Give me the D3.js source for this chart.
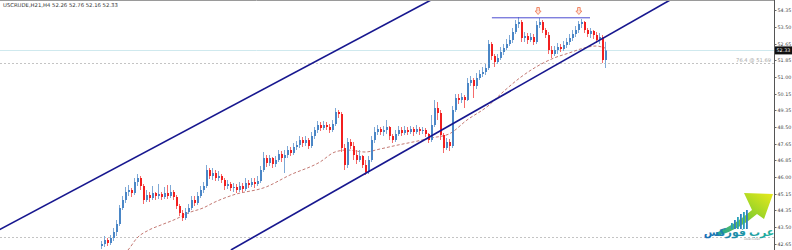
<!DOCTYPE html>
<html><head><meta charset="utf-8">
<script src="https://cdn.jsdelivr.net/npm/d3@7"></script>
<style>
html,body{margin:0;padding:0;background:#fff;}
svg{display:block;}
</style></head>
<body>
<script>
// ---------- DATA ----------
const title = "USCRUDE,H21,H4  52.26 52.76 52.16 52.33";
const tickValues = [54.35,53.50,52.65,51.85,51.00,50.15,49.35,48.50,47.65,46.85,46.00,45.15,44.35,43.50,42.65];
const currentPrice = 52.33;
const fibPrice = 51.69;
const fibLabel = "76.4 @ 51.69";
const lowLevel = 43.00;
const firstOpen = 42.55;
const candleClose = [
42.65,42.85,42.70,42.95,43.25,43.65,44.45,44.85,45.25,45.35,
45.20,45.75,45.95,45.55,44.85,45.10,44.95,45.20,45.05,45.15,
45.00,45.20,45.05,45.25,45.00,44.55,44.20,43.95,44.25,44.45,
44.85,44.70,45.05,45.35,45.55,46.35,46.05,46.20,45.95,46.05,
45.85,45.55,45.65,45.45,45.50,45.35,45.55,45.40,45.70,45.60,
45.75,45.65,45.80,46.35,46.95,46.70,46.95,46.65,46.85,47.15,
46.95,47.10,47.35,47.20,47.50,47.60,47.85,47.70,47.85,47.55,
48.05,48.35,48.60,48.45,48.60,48.50,48.35,48.65,49.25,49.15,
47.45,46.60,47.75,47.55,47.10,46.85,47.05,46.60,46.25,46.85,
47.85,48.25,48.40,48.25,48.35,48.50,48.05,47.85,48.15,48.35,
48.20,48.35,48.25,48.40,48.25,48.40,48.30,48.35,48.15,47.85,
48.60,49.45,49.20,48.10,47.45,47.75,47.55,49.35,49.95,49.85,
50.00,49.85,50.70,50.85,50.55,50.95,51.15,51.25,51.45,52.65,
52.05,51.75,51.95,52.25,52.45,52.65,52.85,53.25,53.65,53.75,
52.95,53.05,52.85,53.00,52.75,53.60,53.75,53.35,53.10,52.35,
52.15,52.35,52.50,52.40,52.60,52.75,52.95,53.15,53.35,53.65,
53.75,53.35,53.15,53.30,53.10,52.85,53.00,51.85,52.33];
const candleHigh = [
42.80,43.05,42.95,43.10,43.45,43.85,44.60,45.05,45.50,45.60,
45.45,45.95,46.15,46.05,45.65,45.35,45.25,45.55,45.25,45.65,
45.25,45.50,45.60,45.60,45.35,45.10,44.65,44.35,44.45,44.65,
45.05,45.05,45.25,45.55,45.75,46.60,46.45,46.45,46.35,46.30,
46.15,45.95,45.85,45.75,45.70,45.65,45.75,45.70,45.95,45.85,
45.95,45.95,46.05,46.55,47.25,47.10,47.10,47.00,47.05,47.35,
47.30,47.35,47.55,47.50,47.70,47.80,48.05,48.00,48.05,47.95,
48.25,48.50,48.80,48.75,48.80,48.75,48.65,48.85,49.45,49.35,
49.25,47.65,47.95,47.90,47.75,47.35,47.35,47.10,46.85,47.05,
48.05,48.50,48.60,48.50,48.55,48.85,48.55,48.15,48.35,48.55,
48.50,48.55,48.50,48.55,48.50,48.60,48.50,48.50,48.45,48.20,
49.10,49.85,49.75,49.35,48.20,47.95,47.90,49.55,50.15,50.15,
50.20,50.10,50.95,51.05,50.95,51.20,51.35,51.50,51.65,52.85,
52.75,52.15,52.15,52.50,52.65,52.90,53.10,53.45,53.85,54.00,
53.85,53.25,53.20,53.20,53.15,53.80,53.95,53.85,53.45,53.25,
52.55,52.55,52.70,52.65,52.80,52.95,53.15,53.35,53.55,53.80,
53.90,53.80,53.45,53.45,53.35,53.25,53.20,53.10,52.76];
const candleLow = [
42.40,42.50,42.55,42.60,42.80,43.05,43.55,44.35,44.70,45.05,
45.00,45.10,45.55,45.35,44.65,44.75,44.75,44.85,44.85,44.90,
44.85,44.90,44.90,44.95,44.85,44.40,44.05,43.80,43.85,44.15,
44.35,44.55,44.60,44.95,45.20,45.45,45.90,45.85,45.80,45.80,
45.70,45.35,45.40,45.30,45.25,45.20,45.25,45.25,45.30,45.45,
45.50,45.45,45.55,45.70,46.25,46.50,46.55,46.45,46.50,46.75,
46.75,46.20,46.95,47.05,47.10,47.35,47.45,47.50,47.55,47.40,
47.45,47.90,48.20,48.30,48.35,48.35,48.20,48.25,48.55,48.95,
47.25,46.35,46.45,47.40,46.85,46.65,46.75,46.45,46.10,46.15,
46.75,47.70,48.10,48.10,48.05,48.15,47.85,47.70,47.75,48.05,
48.05,48.10,48.10,48.15,48.05,48.15,48.10,48.15,48.00,47.70,
47.75,48.50,48.85,47.85,47.20,47.35,47.30,47.45,49.25,49.65,
49.70,49.45,49.80,50.55,49.95,50.40,50.85,51.00,51.10,51.35,
51.85,51.50,51.65,51.85,52.10,52.35,52.55,52.70,53.15,53.45,
52.75,52.75,52.65,52.75,52.60,52.65,53.45,53.20,52.95,52.15,
51.95,52.05,52.15,52.25,52.30,52.45,52.60,52.80,53.00,53.20,
53.45,53.20,53.00,52.95,52.90,52.70,52.65,51.70,51.45];
// moving average (read at sampled bars)
const maIndex = [5,9,12,16,20,25,29,34,38,44,55,63,73,78,82,88,93,99,104,110,116,122,129,134,140,145,151,156,161,165,168];
const maValue = [41.90,42.35,42.95,43.35,43.60,43.90,44.20,44.45,44.75,45.10,45.50,46.10,46.75,47.25,47.35,47.25,47.40,47.60,47.75,47.95,48.15,48.85,49.55,50.25,51.00,51.50,51.95,52.20,52.45,52.55,52.45];
// channel lines (bar index, price)
const upperChannel = [[-34,43.35],[110,54.85]];
const lowerChannel = [[43.3,42.35],[189.7,54.85]];
// resistance (double top) line and markers
const resistance = [[130.3,53.96],[163,53.96]];
const topMarks = [[145.7,54.30],[159.3,54.30]];

// ---------- CHART ----------
const W = 792, H = 250, plotR = 774;
const svg = d3.select("body").append("svg").attr("width", W).attr("height", H)
  .style("font-family", "'DejaVu Sans', sans-serif");
const defs = svg.append("defs");

const y = d3.scaleLinear().domain([42.35, 54.85]).range([H, 0]);
const x = d3.scaleLinear().domain([0, candleClose.length - 1]).range([101, 605]);

defs.append("clipPath").attr("id", "plot")
  .append("rect").attr("x", 0).attr("y", 0).attr("width", plotR).attr("height", H);

const g = svg.append("g").attr("clip-path", "url(#plot)");

// top border
svg.append("line").attr("x1", 0).attr("x2", plotR).attr("y1", 0.5).attr("y2", 0.5)
  .attr("stroke", "#9a9a9a").attr("stroke-width", 1);

// current price line
g.append("line").attr("x1", 0).attr("x2", plotR)
  .attr("y1", Math.round(y(currentPrice)) + 0.5).attr("y2", Math.round(y(currentPrice)) + 0.5)
  .attr("stroke", "#cfe9ee").attr("stroke-width", 1);

// fib levels (dotted)
[fibPrice, lowLevel].forEach(p => {
  g.append("line").attr("x1", 0).attr("x2", plotR)
    .attr("y1", Math.round(y(p)) + 0.5).attr("y2", Math.round(y(p)) + 0.5)
    .attr("stroke", "#c4c4c4").attr("stroke-width", 1).attr("stroke-dasharray", "2,2");
});
g.append("text").attr("x", 771).attr("y", y(fibPrice) - 1).attr("text-anchor", "end")
  .attr("font-size", 5.2).attr("fill", "#a8a8a8").text(fibLabel);

// moving average
const maPts = maIndex.map((d, i) => [x(d), y(maValue[i])]);
g.append("path").attr("d", d3.line().curve(d3.curveMonotoneX)(maPts))
  .attr("fill", "none").attr("stroke", "#b8625a").attr("stroke-width", 1)
  .attr("stroke-dasharray", "3,2").attr("opacity", 0.85);

// candles
const candles = candleClose.map((c, i) => {
  const o = i === 0 ? firstOpen : candleClose[i - 1];
  return { i, o, c, h: Math.max(candleHigh[i], o, c), l: Math.min(candleLow[i], o, c) };
});
const cg = g.append("g");
candles.forEach(d => {
  const up = d.c >= d.o;
  const col = up ? "#4a86c6" : "#f21f1f";
  const wcol = up ? "#7fa9d6" : "#f56a6a";
  const cx = Math.round(x(d.i));
  cg.append("line").attr("x1", cx + 0.5).attr("x2", cx + 0.5)
    .attr("y1", y(d.h)).attr("y2", y(d.l)).attr("stroke", wcol).attr("stroke-width", 1);
  const top = y(Math.max(d.o, d.c)), bot = y(Math.min(d.o, d.c));
  cg.append("rect").attr("x", cx).attr("y", top).attr("width", 2)
    .attr("height", Math.max(1, bot - top)).attr("fill", col);
});

// channel lines
[upperChannel, lowerChannel].forEach(seg => {
  g.append("line").attr("x1", x(seg[0][0])).attr("y1", y(seg[0][1]))
    .attr("x2", x(seg[1][0])).attr("y2", y(seg[1][1]))
    .attr("stroke", "#17178f").attr("stroke-width", 1.6);
});

// resistance line
g.append("line").attr("x1", x(resistance[0][0])).attr("y1", y(resistance[0][1]))
  .attr("x2", x(resistance[1][0])).attr("y2", y(resistance[1][1]))
  .attr("stroke", "#4a4ad0").attr("stroke-width", 1);

// top markers (hollow down arrows)
topMarks.forEach(m => {
  const mx = x(m[0]), my = y(m[1]);
  g.append("path")
    .attr("d", `M${mx-1.3},${my-3.5}H${mx+1.3}V${my}H${mx+3}L${mx},${my+3.5}L${mx-3},${my}H${mx-1.3}Z`)
    .attr("fill", "#fde3d9").attr("stroke", "#f0805e").attr("stroke-width", 0.9);
});

// axis
const axis = d3.axisRight(y).tickValues(tickValues).tickSize(2).tickPadding(1)
  .tickFormat(d3.format(".2f"));
const ag = svg.append("g").attr("transform", `translate(${plotR + 0.5},0)`).call(axis);
ag.select(".domain").attr("stroke", "#555").attr("d", `M0,0V${H}`);
ag.selectAll(".tick line").attr("stroke", "#666");
ag.selectAll(".tick text").attr("font-size", 4.8).attr("fill", "#444")
  .attr("font-family", "'DejaVu Sans', sans-serif");

// current price label
const cy = y(currentPrice);
svg.append("rect").attr("x", plotR + 1).attr("y", cy - 4).attr("width", 17).attr("height", 8).attr("fill", "#111");
svg.append("text").attr("x", plotR + 2.5).attr("y", cy + 2).attr("font-size", 4.8).attr("fill", "#fff")
  .text(d3.format(".2f")(currentPrice));

// title
svg.append("text").attr("x", 3).attr("y", 7).attr("font-size", 5.3).attr("fill", "#333").text(title);

// logo
const logo = svg.append("g");
const grad = defs.append("linearGradient").attr("id", "lg")
  .attr("x1", "0%").attr("y1", "100%").attr("x2", "100%").attr("y2", "0%");
grad.append("stop").attr("offset", "0%").attr("stop-color", "#19a3a0");
grad.append("stop").attr("offset", "55%").attr("stop-color", "#8fd12a");
grad.append("stop").attr("offset", "100%").attr("stop-color", "#eaea1a");
logo.append("path")
  .attr("d", "M716,233 Q736,224 752,210 L744,193 L773,194 L764,219 L757,214 Q740,229 718,236 Z")
  .attr("fill", "url(#lg)");
[[731,223],[734,220],[737,217],[740,214],[743,212],[746,210]].forEach((b, i) => {
  logo.append("rect").attr("x", b[0]).attr("y", b[1]).attr("width", 1.8).attr("height", 229 - b[1])
    .attr("fill", i % 2 ? "#2e7fc0" : "#27a0b8");
});
const tg = defs.append("linearGradient").attr("id", "tg").attr("x1", "0%").attr("x2", "100%");
tg.append("stop").attr("offset", "0%").attr("stop-color", "#1b6fb8");
tg.append("stop").attr("offset", "100%").attr("stop-color", "#20b39a");
logo.append("text").attr("x", 739).attr("y", 236).attr("text-anchor", "middle")
  .attr("font-family", "'Noto Sans', 'DejaVu Sans', sans-serif").attr("font-weight", "bold")
  .attr("font-size", 11).attr("fill", "url(#tg)").attr("direction", "rtl").text("عرب فوركس");
logo.append("text").attr("x", 752).attr("y", 240).attr("text-anchor", "middle")
  .attr("font-size", 2.5).attr("fill", "#999").text("ARAB FOREX");
</script>
</body></html>
